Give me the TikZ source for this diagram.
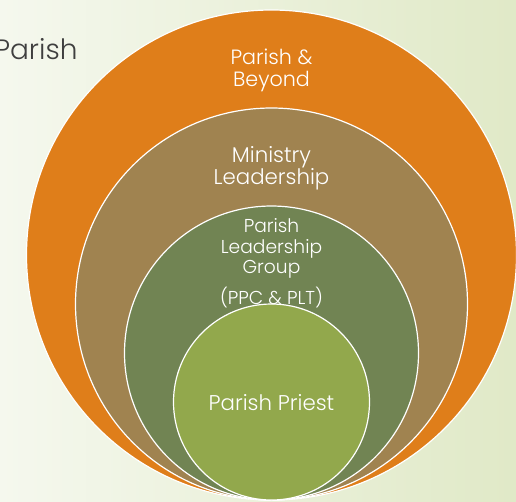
\documentclass[tikz,border=0pt]{standalone}
\usepackage{fontspec}
\setmainfont{Poppins}[UprightFont=* Light]
\usetikzlibrary{positioning}
\definecolor{beyondorange}{HTML}{DF7E1A}
\definecolor{ministrytan}{HTML}{A08350}
\definecolor{groupgreen}{HTML}{718453}
\definecolor{priestgreen}{HTML}{92A84C}
\definecolor{titlegray}{HTML}{3F3F3F}
\definecolor{bgleft}{HTML}{F5F8EE}
\definecolor{bgright}{HTML}{E0E9C7}

\begin{document}
\begin{tikzpicture}[x=0.75pt,y=-0.75pt,
    ring/.style={circle,draw=white,line width=0.9pt,inner sep=0pt},
    ringtext/.style={text=white,align=center,inner sep=0pt}]
    % page and background
    \useasboundingbox (0,0) rectangle (516,501);
    \clip (0,0) rectangle (516,501);
    \shade[left color=bgleft,right color=bgright] (0,0) rectangle (516,501);
    % title
    \node[anchor=base west,text=titlegray,inner sep=0pt,font=\fontsize{21}{21}\selectfont] (title) at (-6,59) {Parish};
    % nested circles, all touching at the bottom
    \node[ring,fill=beyondorange,minimum size=367.5pt] (beyond) at (271.5,255) {};
    \node[ring,fill=ministrytan,minimum size=294pt] (ministry) at (271.5,304) {};
    \node[ring,fill=groupgreen,minimum size=220.5pt] (group) at (271.5,353) {};
    \node[ring,fill=priestgreen,minimum size=147pt] (priest) at (271.5,402) {};
    % labels
    \node[ringtext,font=\fontsize{15.5}{16.5}\selectfont] (beyondtext) at (271.5,70) {Parish \&\\Beyond};
    \node[ringtext,font=\fontsize{16}{16.5}\selectfont] (ministrytext) at (271.5,168) {Ministry\\Leadership};
    \node[ringtext,font=\fontsize{14}{15.5}\selectfont] (grouptext) at (271.5,263) {Parish\\Leadership\\Group\\[5pt](PPC \& PLT)};
    \node[ringtext,font=\fontsize{16}{16.5}\selectfont] (priesttext) at (271.5,403) {Parish Priest};
\end{tikzpicture}
\end{document}
